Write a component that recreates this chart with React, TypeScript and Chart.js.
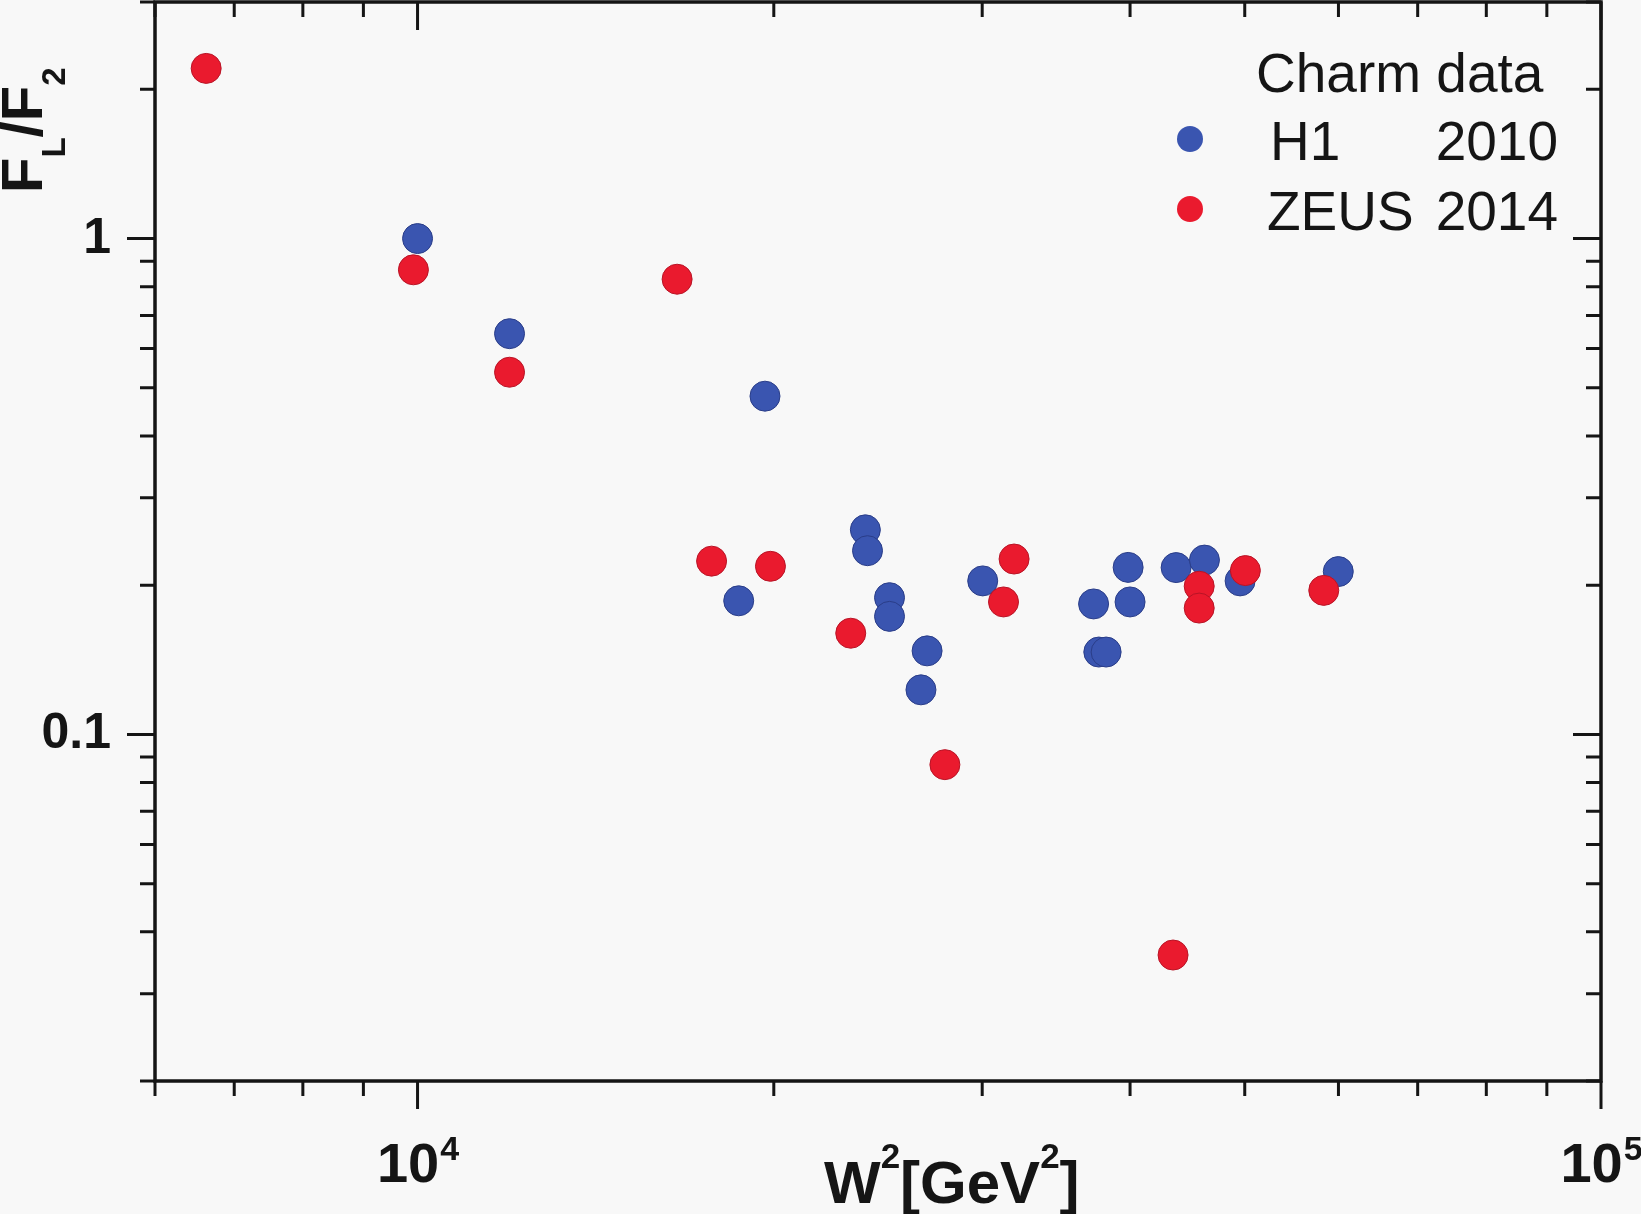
import { useEffect, useRef } from "react"
import { Chart, registerables } from "chart.js"

Chart.register(...registerables)

// H1 2010 charm data: W^2 [GeV^2] and F_L/F_2
const h1W2 = [10000, 11960, 19660, 18680, 23900, 24000, 25050, 25050, 26950, 26630, 30030, 37260, 37640, 38180, 39850, 40000, 43750, 46230, 49550, 59980]
const h1Ratio = [1.0, 0.643, 0.481, 0.186, 0.2586, 0.2347, 0.1887, 0.173, 0.1474, 0.123, 0.204, 0.1833, 0.1466, 0.1466, 0.2172, 0.185, 0.217, 0.2247, 0.204, 0.213]

// ZEUS 2014 charm data
const zeusW2 = [6628, 9920, 11960, 16570, 17720, 19870, 23230, 27900, 31270, 31920, 43490, 45760, 45760, 50060, 58310]
const zeusRatio = [2.204, 0.865, 0.5376, 0.828, 0.2236, 0.2183, 0.16, 0.0869, 0.185, 0.2258, 0.0359, 0.199, 0.1798, 0.214, 0.1952]

// axis ticks
const xMajorTicks = [10000, 100000]
const xTickExponents = ["4", "5"]
const xMinorTicks = [6000, 7000, 8000, 9000, 20000, 30000, 40000, 50000, 60000, 70000, 80000, 90000]
const yMajorTicks = [0.1, 1]
const yTickLabels = ["0.1", "1"]
const yMinorTicks = [0.02, 0.03, 0.04, 0.05, 0.06, 0.07, 0.08, 0.09, 0.2, 0.3, 0.4, 0.5, 0.6, 0.7, 0.8, 0.9, 2, 3]

const legendTitle = "Charm data"
const seriesNames = ["H1", "ZEUS"]
const seriesYears = ["2010", "2014"]

const W = 1641
const H = 1214
const FONT = '"Liberation Sans", Arial, sans-serif'
const INK = "#151515"
const BLUE = "#3a55b0"
const RED = "#ea1a2e"

const framePlugin = {
  id: "originFrame",
  afterDraw(chart: any) {
    const ctx: CanvasRenderingContext2D = chart.ctx
    const { left, right, top, bottom } = chart.chartArea
    const xs = chart.scales.x
    const ys = chart.scales.y
    ctx.save()
    ctx.strokeStyle = INK
    ctx.fillStyle = INK

    // ticks: outward on bottom/left, inward on top/right
    ctx.lineWidth = 3
    const major = 28
    const minor = 15
    const xTick = (v: number, len: number) => {
      const px = xs.getPixelForValue(v)
      ctx.beginPath()
      ctx.moveTo(px, bottom)
      ctx.lineTo(px, bottom + len)
      ctx.moveTo(px, top)
      ctx.lineTo(px, top + len)
      ctx.stroke()
    }
    const yTick = (v: number, len: number) => {
      const py = ys.getPixelForValue(v)
      ctx.beginPath()
      ctx.moveTo(left - len, py)
      ctx.lineTo(left, py)
      ctx.moveTo(right - len, py)
      ctx.lineTo(right, py)
      ctx.stroke()
    }
    xMinorTicks.forEach((v) => xTick(v, minor))
    xMajorTicks.forEach((v) => xTick(v, major))
    yMinorTicks.forEach((v) => yTick(v, minor))
    yMajorTicks.forEach((v) => yTick(v, major))

    // frame
    ctx.lineWidth = 3.5
    ctx.strokeRect(left, top, right - left, bottom - top)

    // y tick labels
    ctx.font = `bold 50px ${FONT}`
    ctx.textAlign = "right"
    ctx.textBaseline = "alphabetic"
    yMajorTicks.forEach((v, i) => {
      ctx.fillText(yTickLabels[i], 111, ys.getPixelForValue(v) + 14)
    })

    // x tick labels: 10^n
    ctx.textAlign = "left"
    xMajorTicks.forEach((v, i) => {
      const px = xs.getPixelForValue(v)
      ctx.font = `bold 56px ${FONT}`
      const wBase = ctx.measureText("10").width
      ctx.font = `bold 34px ${FONT}`
      const wExp = ctx.measureText(xTickExponents[i]).width
      const x0 = px - (wBase + wExp) / 2
      ctx.font = `bold 56px ${FONT}`
      ctx.fillText("10", x0, 1182)
      ctx.font = `bold 34px ${FONT}`
      ctx.fillText(xTickExponents[i], x0 + wBase + 1, 1160)
    })

    // x axis title: W²[GeV²]
    const parts: [string, number, number][] = [
      ["W", 60, 1203],
      ["2", 35, 1168],
      ["[GeV", 60, 1203],
      ["2", 35, 1168],
      ["]", 60, 1203],
    ]
    let cx = 824
    parts.forEach(([t, size, base]) => {
      ctx.font = `bold ${size}px ${FONT}`
      ctx.fillText(t, cx, base)
      cx += ctx.measureText(t).width
    })

    // y axis title: F_L/F_2 rotated
    ctx.save()
    ctx.rotate(-Math.PI / 2)
    const yparts: [string, number, number][] = [
      ["F", 58, 42],
      ["L", 33, 65],
      ["/", 58, 42],
      ["F", 58, 42],
      ["2", 33, 65],
    ]
    let u = -193
    yparts.forEach(([t, size, v]) => {
      ctx.font = `bold ${size}px ${FONT}`
      ctx.fillText(t, u, v)
      u += ctx.measureText(t).width
    })
    ctx.restore()

    // legend
    ctx.font = `55px ${FONT}`
    ctx.textAlign = "left"
    ctx.fillText(legendTitle, 1256, 92)
    const colors = [BLUE, RED]
    const rows = [160, 230]
    rows.forEach((base, i) => {
      ctx.beginPath()
      ctx.arc(1190, base - 21, 13, 0, Math.PI * 2)
      ctx.fillStyle = colors[i]
      ctx.fill()
      ctx.fillStyle = INK
      ctx.textAlign = "left"
      ctx.fillText(seriesNames[i], i === 0 ? 1270 : 1267, base)
      ctx.textAlign = "right"
      ctx.fillText(seriesYears[i], 1558, base)
    })
    ctx.restore()
  },
}

export default function App() {
  const canvasRef = useRef<HTMLCanvasElement>(null)
  const chartInstance = useRef<Chart | null>(null)

  useEffect(() => {
    if (!canvasRef.current) return
    if (chartInstance.current) chartInstance.current.destroy()
    const ctx = canvasRef.current.getContext("2d")
    if (!ctx) return

    chartInstance.current = new Chart(ctx, {
      type: "scatter",
      data: {
        datasets: [
          {
            label: "ZEUS 2014",
            data: zeusW2.map((x, i) => ({ x, y: zeusRatio[i] })),
            backgroundColor: RED,
            borderColor: "#b81426",
            borderWidth: 1,
            pointRadius: 15,
            order: 0,
          },
          {
            label: "H1 2010",
            data: h1W2.map((x, i) => ({ x, y: h1Ratio[i] })),
            backgroundColor: BLUE,
            borderColor: "#2a3d88",
            borderWidth: 1,
            pointRadius: 15,
            order: 1,
          },
        ],
      },
      options: {
        responsive: false,
        animation: false,
        layout: { autoPadding: false, padding: { left: 155, right: 40, top: 2, bottom: 133 } },
        scales: {
          x: { type: "logarithmic", min: 6000, max: 100000, display: false },
          y: { type: "logarithmic", min: 0.02, max: 3, display: false },
        },
        plugins: {
          legend: { display: false },
          tooltip: { enabled: false },
        },
      },
      plugins: [framePlugin],
    })

    return () => {
      if (chartInstance.current) {
        chartInstance.current.destroy()
        chartInstance.current = null
      }
    }
  }, [])

  return (
    <div style={{ position: "fixed", left: 0, top: 0, width: W, height: H, background: "#f8f8f8" }}>
      <canvas ref={canvasRef} width={W} height={H} style={{ width: W, height: H }} />
    </div>
  )
}
